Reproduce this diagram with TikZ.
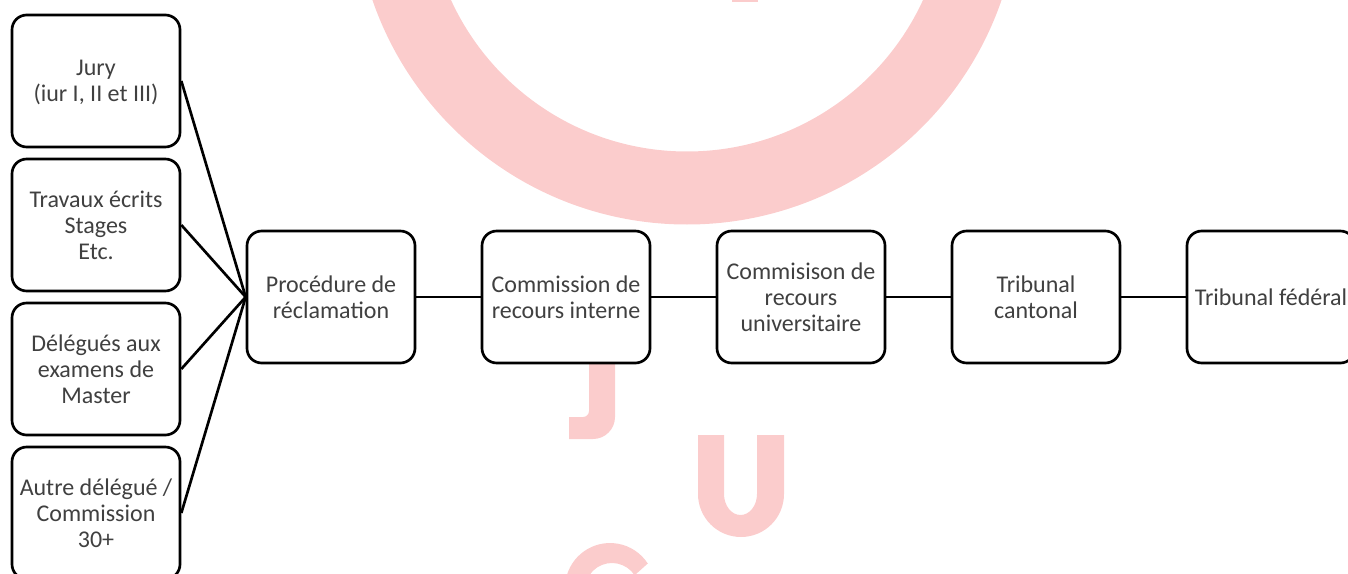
\documentclass[tikz,border=0pt]{standalone}
\usepackage{fontspec}
\setmainfont{Carlito}
\definecolor{markpink}{HTML}{FBCCCC}
\tikzset{
	box/.style={draw=black, fill=white, line width=2pt, rounded corners=11pt, minimum width=126pt, minimum height=99pt, inner sep=0pt, align=center, font=\fontsize{18}{19.5}\selectfont, text=black!75},
	link/.style={draw=black, line width=2pt},
	mark ink/.style={fill=markpink, draw=none}
}
\begin{document}
\begin{tikzpicture}[x=0.75pt, y=-0.75pt]
	\useasboundingbox (0,0) rectangle (1348,574);
	% watermark behind everything
	\fill [mark ink, even odd rule] (687,-108) circle [radius=332.5] (687,-108) circle [radius=259.5];
	\fill [mark ink] (732,-5) rectangle (758,2);
	\fill [mark ink] (589,340) -- (615,340) -- (615,417) arc [start angle=0, end angle=90, radius=22] -- (569,439) -- (569,417) -- (583,417) arc [start angle=90, end angle=0, radius=6] -- cycle;
	\fill [mark ink] (698,435) -- (724,435) -- (724,494) arc [start angle=180, end angle=0, x radius=16.5, y radius=21] -- (757,435) -- (784,435) -- (784,494) arc [start angle=0, end angle=180, radius=43] -- cycle;
	\fill [mark ink] (565.7,580.2) arc [start angle=190, end angle=327, radius=45] -- (634.6,575.3) arc [start angle=327, end angle=190, radius=27] -- cycle;

	\node at (96,81) [box] (jury) {Jury\\\smash{(iur I, II et III)}};
	\node at (96,225) [box] (travaux) {Travaux écrits\\Stages\\Etc.};
	\node at (96,369) [box] (master) {Délégués aux\\examens de\\Master};
	\node at (96,513) [box] (autre) {Autre délégué /\\Commission\\30+};
	\node at (331,297) [box] (proc) {Procédure de\\réclamation};
	\node at (566,297) [box] (interne) {Commission de\\recours interne};
	\node at (801,297) [box] (univ) {Commisison de\\recours\\universitaire};
	\node at (1036,297) [box] (cant) {Tribunal\\cantonal};
	\node at (1271,297) [box] (fed) {Tribunal fédéral};

	\draw [link] (jury.east) -- (proc.west);
	\draw [link] (travaux.east) -- (proc.west);
	\draw [link] (master.east) -- (proc.west);
	\draw [link] (autre.east) -- (proc.west);
	\draw [link] (proc) -- (interne);
	\draw [link] (interne) -- (univ);
	\draw [link] (univ) -- (cant);
	\draw [link] (cant) -- (fed);
\end{tikzpicture}
\end{document}
